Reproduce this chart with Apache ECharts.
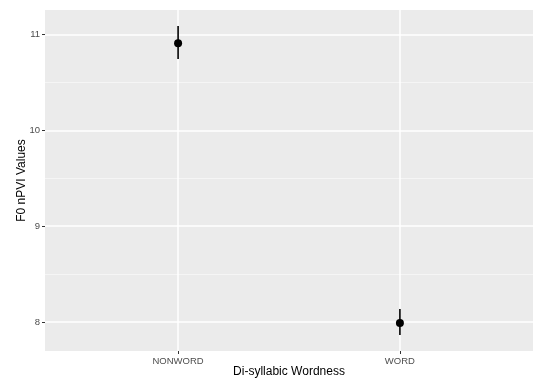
<!DOCTYPE html>
<html>
<head>
<meta charset="utf-8">
<script src="https://cdn.jsdelivr.net/npm/echarts@6/dist/echarts.min.js"></script>
<style>
  html, body { margin: 0; padding: 0; background: #fff; }
  #chart { width: 534px; height: 379px; }
</style>
</head>
<body>
<div id="chart"></div>
<script>
// chart data
var categories = ['NONWORD', 'WORD']
var means = [10.91, 7.99]
var lower = [10.745, 7.865]
var upper = [11.09, 8.135]
var yTicks = [8, 9, 10, 11]
var yMinor = [8.5, 9.5, 10.5]

var font = "'Liberation Sans', Arial, sans-serif"
var xPos = categories.map(function(c, i) { return i + 1 })

var chart = echarts.init(document.getElementById('chart'))

chart.setOption({
  animation: false,
  textStyle: { fontFamily: font },
  grid: {
    left: 45,
    right: 1,
    top: 10,
    bottom: 28,
    outerBoundsMode: 'none',
    containLabel: false,
    show: true,
    backgroundColor: '#EBEBEB',
    borderWidth: 0
  },
  xAxis: {
    type: 'value',
    min: 0.4,
    max: 2.6,
    name: 'Di-syllabic Wordness',
    nameLocation: 'middle',
    nameGap: 15,
    nameMoveOverlap: false,
    nameTextStyle: { color: '#000', fontSize: 12, fontFamily: font },
    axisLine: { show: false },
    axisTick: { show: true, length: 3, lineStyle: { color: '#333', width: 1 }, customValues: xPos },
    axisLabel: {
      customValues: xPos,
      margin: 5,
      color: '#4D4D4D',
      fontSize: 9.5,
      fontFamily: font,
      formatter: function(v) { return categories[Math.round(v) - 1] || '' }
    },
    splitLine: { show: true, lineStyle: { color: '#fff', width: 1.5 } }
  },
  yAxis: [{
    type: 'value',
    min: 7.697,
    max: 11.258,
    name: 'F0 nPVI Values',
    nameLocation: 'middle',
    nameGap: 17,
    nameMoveOverlap: false,
    nameTextStyle: { color: '#000', fontSize: 12, fontFamily: font },
    axisLine: { show: false },
    axisTick: { show: true, length: 3, lineStyle: { color: '#333', width: 1 }, customValues: yTicks },
    axisLabel: {
      customValues: yTicks,
      margin: 5,
      color: '#4D4D4D',
      fontSize: 9.5,
      fontFamily: font
    },
    splitLine: { show: true, lineStyle: { color: '#fff', width: 1.5 } }
  }, {
    // minor grid lines
    type: 'value',
    min: 7.697,
    max: 11.258,
    position: 'left',
    axisLine: { show: false },
    axisTick: { show: false, customValues: yMinor },
    axisLabel: { show: false, customValues: yMinor },
    splitLine: { show: true, lineStyle: { color: '#F7F7F7', width: 0.8 } }
  }],
  series: [{
    type: 'custom',
    renderItem: function(params, api) {
      var top = api.coord([api.value(0), api.value(2)])
      var bot = api.coord([api.value(0), api.value(1)])
      return {
        type: 'line',
        shape: { x1: top[0], y1: top[1], x2: bot[0], y2: bot[1] },
        style: { stroke: '#000', lineWidth: 1.6 }
      }
    },
    data: xPos.map(function(x, i) { return [x, lower[i], upper[i]] }),
    z: 3
  }, {
    type: 'scatter',
    symbol: 'circle',
    symbolSize: 8,
    itemStyle: { color: '#000', opacity: 1 },
    data: xPos.map(function(x, i) { return [x, means[i]] }),
    z: 4
  }]
})
</script>
</body>
</html>
